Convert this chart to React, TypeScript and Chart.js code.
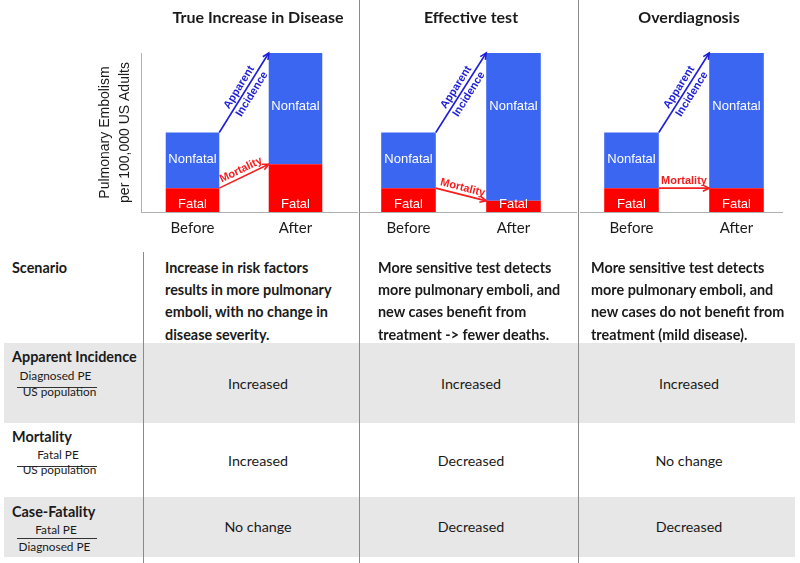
import React, { useEffect, useRef } from "react";
import { Chart, registerables } from "chart.js";

Chart.register(...registerables);

// ---------- data ----------
const periods = ["Before", "After"];
const panelTitles = ["True Increase in Disease", "Effective test", "Overdiagnosis"];
const fatalTrueIncrease = [30, 60];
const nonfatalTrueIncrease = [70, 140];
const fatalEffectiveTest = [30, 14];
const nonfatalEffectiveTest = [70, 186];
const fatalOverdiagnosis = [30, 30];
const nonfatalOverdiagnosis = [70, 170];
const yMax = 200;
const yAxisTitle = ["Pulmonary Embolism", "per 100,000 US Adults"];
const segmentLabels = ["Fatal", "Nonfatal"];
const incidenceArrowLabel = ["Apparent", "Incidence"];
const mortalityArrowLabel = ["Mortality"];

const scenarioHeader = "Scenario";
const scenarioTrueIncrease = [
  "Increase in risk factors",
  "results in more pulmonary",
  "emboli, with no change in",
  "disease severity.",
];
const scenarioEffectiveTest = [
  "More sensitive test detects",
  "more pulmonary emboli, and",
  "new cases benefit from",
  "treatment -> fewer deaths.",
];
const scenarioOverdiagnosis = [
  "More sensitive test detects",
  "more pulmonary emboli, and",
  "new cases do not benefit from",
  "treatment (mild disease).",
];
const rowLabels = ["Apparent Incidence", "Mortality", "Case-Fatality"];
const rowNumerators = ["Diagnosed PE", "Fatal PE", "Fatal PE"];
const rowDenominators = ["US population", "US population", "Diagnosed PE"];
const outcomesTrueIncrease = ["Increased", "Increased", "No change"];
const outcomesEffectiveTest = ["Increased", "Decreased", "Decreased"];
const outcomesOverdiagnosis = ["Increased", "No change", "Decreased"];

// ---------- styles ----------
const BLUE = "#3b66f2";
const RED = "#ff0000";
const ARROW_BLUE = "#1e1ed8";
const ARROW_RED = "#f51d1d";
const AXIS_GRAY = "#b0b0b0";
const TEXT = "#1a1a1a";
const HFONT = "Lato, 'Open Sans', sans-serif";
const AFONT = "'Liberation Sans', Arial, sans-serif";
const NFONT = "'Liberation Sans Narrow', 'Liberation Sans', Arial, sans-serif";

function drawArrow(
  ctx: CanvasRenderingContext2D,
  x0: number,
  y0: number,
  x1: number,
  y1: number,
  color: string,
  label: string[]
) {
  const ang = Math.atan2(y1 - y0, x1 - x0);
  ctx.save();
  ctx.strokeStyle = color;
  ctx.fillStyle = color;
  ctx.lineWidth = 1.6;
  ctx.beginPath();
  ctx.moveTo(x0, y0);
  ctx.lineTo(x1, y1);
  ctx.stroke();
  const hl = 7;
  const ha = 0.45;
  ctx.beginPath();
  ctx.moveTo(x1 - hl * Math.cos(ang - ha), y1 - hl * Math.sin(ang - ha));
  ctx.lineTo(x1, y1);
  ctx.lineTo(x1 - hl * Math.cos(ang + ha), y1 - hl * Math.sin(ang + ha));
  ctx.stroke();
  // label
  ctx.translate((x0 + x1) / 2, (y0 + y1) / 2);
  ctx.rotate(ang);
  ctx.font = "bold 11px " + NFONT;
  ctx.textAlign = "center";
  if (label.length === 1) {
    ctx.textBaseline = "bottom";
    ctx.fillText(label[0], 0, -1.5);
  } else {
    ctx.textBaseline = "bottom";
    ctx.fillText(label[0], 2, -1.5);
    ctx.textBaseline = "top";
    ctx.fillText(label[1], 3, 2);
  }
  ctx.restore();
}

const panelPlugin = {
  id: "panelDecor",
  afterDatasetsDraw(chart: any, _args: any, opts: any) {
    const ctx: CanvasRenderingContext2D = chart.ctx;
    const area = chart.chartArea;
    const yScale = chart.scales.y;
    const fatalBars = chart.getDatasetMeta(0).data;
    const nonfatalBars = chart.getDatasetMeta(1).data;
    const fatalVals = chart.data.datasets[0].data as number[];
    const nonfatalVals = chart.data.datasets[1].data as number[];

    ctx.save();
    // baseline
    ctx.strokeStyle = AXIS_GRAY;
    ctx.lineWidth = 1;
    ctx.beginPath();
    ctx.moveTo(area.left + opts.baseFrom, area.bottom + 0.5);
    ctx.lineTo(area.right + opts.baseTo, area.bottom + 0.5);
    ctx.stroke();

    // segment labels
    ctx.fillStyle = "#ffffff";
    ctx.font = "13px " + AFONT;
    ctx.textAlign = "center";
    ctx.textBaseline = "middle";
    nonfatalBars.forEach((bar: any, i: number) => {
      const total = fatalVals[i] + nonfatalVals[i];
      ctx.fillText(segmentLabels[1], bar.x, yScale.getPixelForValue((total * 2) / 3));
      ctx.fillText(segmentLabels[0], bar.x, area.bottom - 8);
    });
    ctx.restore();

    // arrows
    const b0 = nonfatalBars[0];
    const b1 = nonfatalBars[1];
    const xs = b0.x + b0.width / 2;
    const xe = b1.x - b1.width / 2;
    drawArrow(ctx, xs, b0.y, xe, b1.y, ARROW_BLUE, incidenceArrowLabel);
    drawArrow(ctx, xs, fatalBars[0].y, xe, fatalBars[1].y, ARROW_RED, mortalityArrowLabel);
  },
};

type PanelProps = {
  fatal: number[];
  nonfatal: number[];
  left: number;
  width: number;
  pad: { left: number; right: number };
  showY: boolean;
  baseFrom: number;
  baseTo: number;
};

function Panel({ fatal, nonfatal, left, width, pad, showY, baseFrom, baseTo }: PanelProps) {
  const ref = useRef<HTMLCanvasElement | null>(null);
  useEffect(() => {
    if (!ref.current) return;
    const chart = new Chart(ref.current, {
      type: "bar",
      data: {
        labels: periods,
        datasets: [
          {
            label: segmentLabels[0],
            data: fatal,
            backgroundColor: RED,
            borderWidth: 0,
            categoryPercentage: 1,
            barPercentage: 0.52,
          },
          {
            label: segmentLabels[1],
            data: nonfatal,
            backgroundColor: BLUE,
            borderWidth: 0,
            categoryPercentage: 1,
            barPercentage: 0.52,
          },
        ],
      },
      options: {
        responsive: false,
        animation: false,
        events: [],
        layout: { padding: { left: pad.left, right: pad.right, top: 53, bottom: 0 } },
        plugins: {
          legend: { display: false },
          tooltip: { enabled: false },
          title: { display: false },
          panelDecor: { baseFrom, baseTo },
        } as any,
        scales: {
          x: {
            stacked: true,
            grid: { display: false, drawTicks: false },
            border: { display: false },
            ticks: {
              color: TEXT,
              font: { family: HFONT, size: 15 },
              padding: 7,
            },
            afterFit: (s: any) => {
              s.height = 33;
            },
          },
          y: {
            stacked: true,
            display: showY,
            min: 0,
            max: yMax,
            grid: { display: false, drawTicks: false },
            border: { display: true, color: AXIS_GRAY, width: 1 },
            ticks: { display: false },
            title: {
              display: true,
              text: yAxisTitle,
              color: TEXT,
              font: { family: AFONT, size: 14, lineHeight: 20 / 14 },
              padding: { top: 4, bottom: 6 },
            },
            afterFit: (s: any) => {
              s.width = showY ? 50 : 0;
            },
          },
        },
      },
      plugins: [panelPlugin],
    });
    return () => chart.destroy();
  }, []);
  return (
    <canvas
      ref={ref}
      width={width}
      height={245}
      style={{ position: "absolute", left, top: 0, width, height: 245 }}
    />
  );
}

function Txt({
  children,
  x,
  cy,
  size,
  bold,
  center,
  lh,
}: {
  children: React.ReactNode;
  x: number;
  cy: number;
  size: number;
  bold?: boolean;
  center?: boolean;
  lh?: number;
}) {
  const lineH = lh ?? size * 1.3;
  return (
    <div
      style={{
        position: "absolute",
        left: center ? x - 150 : x,
        width: center ? 300 : undefined,
        top: cy - lineH / 2,
        lineHeight: lineH + "px",
        fontSize: size,
        fontWeight: bold ? 700 : 400,
        fontFamily: HFONT,
        color: TEXT,
        textAlign: center ? "center" : "left",
        whiteSpace: "nowrap",
      }}
    >
      {children}
    </div>
  );
}

export default function App() {
  const colCenters = [258, 471, 689];
  const colLefts = [165, 378, 591];
  const scenarios = [scenarioTrueIncrease, scenarioEffectiveTest, scenarioOverdiagnosis];
  const outcomes = [outcomesTrueIncrease, outcomesEffectiveTest, outcomesOverdiagnosis];
  const rowCenters = [384, 461, 527];
  const rowLabelY = [357, 437, 512];
  const fracNumY = [376, 455, 530];
  const fracNumX = [55.5, 58, 56];
  const fracLineY = [387, 466, 538];
  const fracDenY = [392, 470, 547];
  const fracDenX = [59.5, 59.5, 54.5];

  return (
    <div
      style={{
        position: "absolute",
        left: 0,
        top: 0,
        width: 800,
        height: 563,
        background: "#ffffff",
        overflow: "hidden",
      }}
    >
      {/* gray bands */}
      <div style={{ position: "absolute", left: 4, top: 343, width: 791, height: 80, background: "#e7e7e7" }} />
      <div style={{ position: "absolute", left: 4, top: 497, width: 791, height: 60, background: "#e7e7e7" }} />
      {/* dividers */}
      <div style={{ position: "absolute", left: 143, top: 252, width: 1, height: 311, background: "#8a8a8a" }} />
      <div style={{ position: "absolute", left: 359, top: 0, width: 1, height: 563, background: "#8a8a8a" }} />
      <div style={{ position: "absolute", left: 578, top: 0, width: 1, height: 563, background: "#8a8a8a" }} />

      <Panel
        fatal={fatalTrueIncrease}
        nonfatal={nonfatalTrueIncrease}
        left={0}
        width={359}
        pad={{ left: 91, right: 12 }}
        showY={true}
        baseFrom={0}
        baseTo={11}
      />
      <Panel
        fatal={fatalEffectiveTest}
        nonfatal={nonfatalEffectiveTest}
        left={340}
        width={240}
        pad={{ left: 16, right: 14 }}
        showY={false}
        baseFrom={4}
        baseTo={11}
      />
      <Panel
        fatal={fatalOverdiagnosis}
        nonfatal={nonfatalOverdiagnosis}
        left={570}
        width={230}
        pad={{ left: 9, right: 11 }}
        showY={false}
        baseFrom={1}
        baseTo={-6}
      />

      {panelTitles.map((t, i) => (
        <Txt key={"t" + i} x={colCenters[i]} cy={17} size={16} bold center>
          {t}
        </Txt>
      ))}

      <Txt x={12} cy={268} size={14.4} bold>
        {scenarioHeader}
      </Txt>
      {scenarios.map((lines, i) =>
        lines.map((ln, j) => (
          <Txt key={"s" + i + "-" + j} x={colLefts[i]} cy={268 + j * 22.4} size={14.4} bold>
            {ln}
          </Txt>
        ))
      )}

      {rowLabels.map((lab, r) => (
        <React.Fragment key={"r" + r}>
          <Txt x={12} cy={rowLabelY[r]} size={14.4} bold>
            {lab}
          </Txt>
          <Txt x={fracNumX[r]} cy={fracNumY[r]} size={11.8} center>
            {rowNumerators[r]}
          </Txt>
          <div
            style={{
              position: "absolute",
              left: 17,
              top: fracLineY[r],
              width: 80,
              height: 1,
              background: "#333",
            }}
          />
          <Txt x={fracDenX[r]} cy={fracDenY[r]} size={11.8} center>
            {rowDenominators[r]}
          </Txt>
          {outcomes.map((col, c) => (
            <Txt key={"o" + r + c} x={colCenters[c]} cy={rowCenters[r]} size={14.3} center>
              {col[r]}
            </Txt>
          ))}
        </React.Fragment>
      ))}
    </div>
  );
}
